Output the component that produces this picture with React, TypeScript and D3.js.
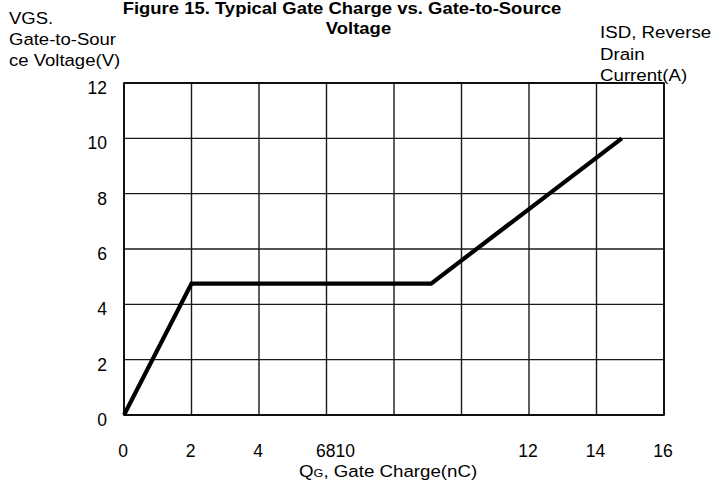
import React from "react";
import * as d3 from "d3";

const qg = [0, 2, 9.1, 14.75];
const vgs = [0, 4.75, 4.75, 10];
const yTicks = [0, 2, 4, 6, 8, 10, 12];
const xGrid = [0, 2, 4, 6, 8, 10, 12, 14, 16];
const xTickValues = [0, 2, 4, 6, 12, 14, 16];
const xTickLabels = ["0", "2", "4", "6810", "12", "14", "16"];
const titleLines = ["Figure 15. Typical Gate Charge vs. Gate-to-Source", "Voltage"];
const leftLabel = ["VGS.", "Gate-to-Sour", "ce Voltage(V)"];
const rightLabel = ["ISD, Reverse", "Drain", "Current(A)"];

const W = 712;
const H = 485;
const FONT = "'Liberation Sans', Arial, sans-serif";

function T({ x, y, s = 1.08, anchor = "start", size = 17, weight = "normal", children }: any) {
  return (
    <g transform={`translate(${x},${y}) scale(${s},1)`}>
      <text x={0} y={0} textAnchor={anchor} fontSize={size} fontWeight={weight} fontFamily={FONT} fill="#000">
        {children}
      </text>
    </g>
  );
}

export default function App() {
  const x = d3.scaleLinear().domain([0, 16]).range([124, 664]);
  const y = d3.scaleLinear().domain([0, 12]).range([415, 83]);
  const pts = qg.map((q, i) => [q, vgs[i]] as [number, number]);
  const line = d3
    .line<[number, number]>()
    .x((d) => x(d[0]))
    .y((d) => y(d[1]));

  return (
    <svg width={W} height={H} style={{ position: "absolute", left: 0, top: 0, background: "#fff" }}>
      <rect x={0} y={0} width={W} height={H} fill="#fff" />
      {/* grid */}
      {xGrid.map((v) => (
        <line key={"gx" + v} x1={x(v)} x2={x(v)} y1={y(0)} y2={y(12)} stroke="#1a1a1a" strokeWidth={1.4} />
      ))}
      {yTicks.map((v) => (
        <line key={"gy" + v} x1={x(0)} x2={x(16)} y1={y(v)} y2={y(v)} stroke="#1a1a1a" strokeWidth={1.4} />
      ))}
      <rect x={x(0)} y={y(12)} width={x(16) - x(0)} height={y(0) - y(12)} fill="none" stroke="#000" strokeWidth={1.6} />
      {/* data */}
      <path d={line(pts) || ""} fill="none" stroke="#000" strokeWidth={4.2} strokeLinejoin="miter" />
      {/* y tick labels */}
      {yTicks.map((v) => (
        <T key={"yt" + v} x={107} y={y(v) + 11} anchor="end" s={1} size={17.5}>
          {String(v)}
        </T>
      ))}
      {/* x tick labels */}
      {xTickValues.map((v, i) => (
        <T key={"xt" + v} x={x(v) + (xTickLabels[i].length > 2 ? 9 : -1)} y={457} anchor="middle" s={1} size={17.5}>
          {xTickLabels[i]}
        </T>
      ))}
      {/* x axis title */}
      <g transform={`translate(299,477) scale(1.1,1)`}>
        <text x={0} y={0} fontSize={17} fontFamily={FONT} fill="#000">
          Q<tspan fontSize={11.5}>G</tspan>, Gate Charge(nC)
        </text>
      </g>
      {/* title */}
      <T x={342} y={14} anchor="middle" size={16.5} weight="bold" s={1.12}>
        {titleLines[0]}
      </T>
      <T x={358.5} y={34} anchor="middle" size={16.5} weight="bold" s={1.12}>
        {titleLines[1]}
      </T>
      {/* left axis label */}
      {leftLabel.map((t, i) => (
        <T key={"ll" + i} x={9} y={24 + i * 21} size={17} s={1.09}>
          {t}
        </T>
      ))}
      {/* right axis label */}
      {rightLabel.map((t, i) => (
        <T key={"rl" + i} x={600} y={38 + i * 21.5} size={17} s={1.1}>
          {t}
        </T>
      ))}
    </svg>
  );
}
